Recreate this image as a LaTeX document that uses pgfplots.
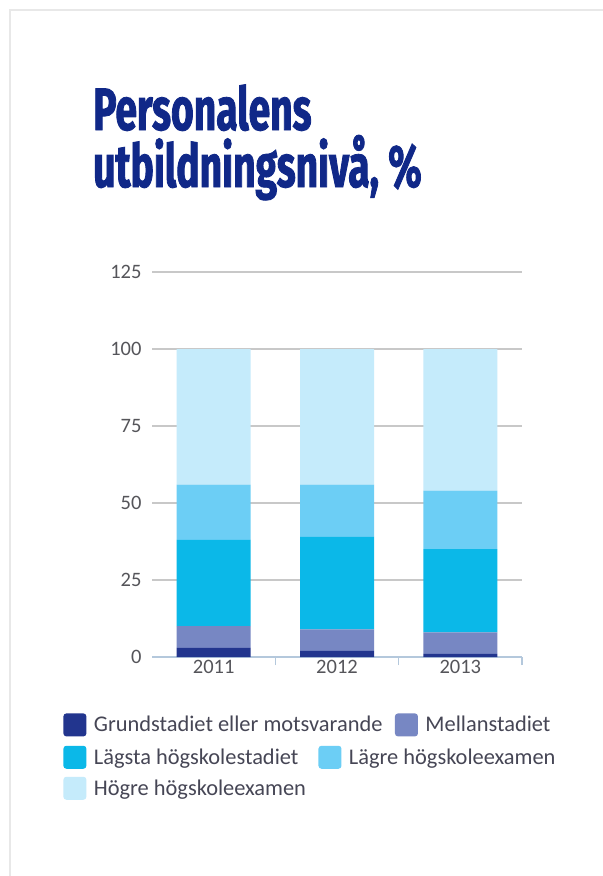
\documentclass[border=0pt]{standalone}
\usepackage{fontspec}
\setmainfont{Carlito}
\newfontfamily\titlefont{Fira Sans}[FakeStretch=0.65, FakeBold=1.4]
\usepackage{pgfplots}
\usepackage{pgfplotstable}
\pgfplotsset{compat=1.18}

\definecolor{titleblue}{RGB}{16,40,136}
\definecolor{cgrund}{RGB}{34,53,142}
\definecolor{cmellan}{RGB}{119,135,195}
\definecolor{clagsta}{RGB}{11,184,232}
\definecolor{clagre}{RGB}{108,206,245}
\definecolor{chogre}{RGB}{197,235,251}
\definecolor{gridgray}{RGB}{200,200,200}
\definecolor{axisblue}{RGB}{180,200,220}
\definecolor{ticktext}{RGB}{85,85,90}
\definecolor{legtext}{RGB}{70,70,85}
\definecolor{framegray}{RGB}{232,232,232}

% x: 0 = 2011, 1 = 2012, 2 = 2013
\pgfplotstableread{
x grund mellan lagsta lagre hogre
0 3 7 28 18 44
1 2 7 30 17 44
2 1 7 27 19 46
}\edu

\pgfplotsset{
  swatch/.style={legend image code/.code={%
    \fill[##1, rounded corners=3bp] (0bp,-11.5bp) rectangle (23bp,11.5bp);}},
  legstyle/.style={
    legend cell align=left,
    legend style={draw=none, fill=none, inner sep=0pt,
      font=\fontsize{22.4bp}{26bp}\selectfont, text=legtext,
      row sep=8bp, nodes={inner sep=1.5bp},
      /tikz/every odd column/.append style={column sep=6bp},
      /tikz/every even column/.append style={column sep=11bp}}},
  frame/.style={at={(152bp,-657bp)}, anchor=south west,
    scale only axis, width=370bp, height=385bp,
    xmin=-0.5, xmax=2.5, ymin=0, ymax=125},
}

\begin{document}
\begin{tikzpicture}
\fill[white] (0,0) rectangle (603bp,-876bp);
\path[use as bounding box] (0,0) rectangle (603bp,-876bp);
\draw[framegray, line width=1.5bp] (10bp,-876bp) -- (10bp,-10bp) -- (603bp,-10bp);

\node[anchor=base west, inner sep=0, text=titleblue,
  font=\titlefont\bfseries\fontsize{60bp}{60bp}\selectfont] at (93bp,-130bp) {Personalens};
\node[anchor=base west, inner sep=0, text=titleblue,
  font=\titlefont\bfseries\fontsize{60bp}{60bp}\selectfont] at (93bp,-187bp) {utbildningsnivå, \%};

\begin{axis}[frame, legstyle,
  ybar stacked, bar width=0.6,
  axis x line*=bottom, axis y line*=left,
  y axis line style={draw=none},
  x axis line style={draw=axisblue, line width=1.5bp},
  xtick={0,1,2}, xticklabels={2011,2012,2013},
  minor xtick={0.5,1.5,2.5},
  minor tick length=8bp, major tick length=0pt, tick align=outside,
  minor tick style={draw=axisblue, line width=1.5bp},
  ytick={0,25,50,75,100,125},
  ymajorgrids, grid style={draw=gridgray, line width=1.5bp},
  tick label style={font=\fontsize{20.5bp}{24bp}\selectfont, text=ticktext},
  /pgf/number format/assume math mode=true,
  yticklabel style={xshift=-7bp},
  legend style={at={(-0.24,-0.146)}, anchor=north west},
  legend columns=2]
\addplot[fill=cgrund, draw=none, swatch] table[x=x, y=grund] {\edu};
\addplot[fill=cmellan, draw=none, swatch] table[x=x, y=mellan] {\edu};
\addplot[fill=clagsta, draw=none, swatch] table[x=x, y=lagsta] {\edu};
\addplot[fill=clagre, draw=none, swatch] table[x=x, y=lagre] {\edu};
\addplot[fill=chogre, draw=none, swatch] table[x=x, y=hogre] {\edu};
\legend{Grundstadiet eller motsvarande, Mellanstadiet}
\end{axis}

\begin{axis}[frame, swatch, legstyle, hide axis,
  legend style={at={(-0.24,-0.230)}, anchor=north west},
  legend columns=2]
\addlegendimage{fill=clagsta, draw=none}
\addlegendentry{Lägsta högskolestadiet}
\addlegendimage{fill=clagre, draw=none}
\addlegendentry{Lägre högskoleexamen}
\addlegendimage{fill=chogre, draw=none}
\addlegendentry{Högre högskoleexamen}
\end{axis}
\end{tikzpicture}
\end{document}
